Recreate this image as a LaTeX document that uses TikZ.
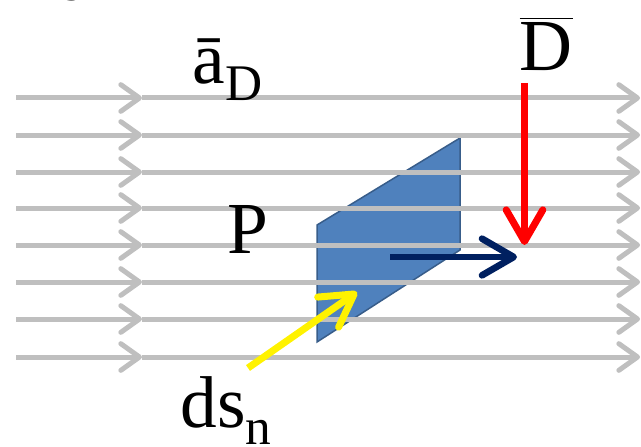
\documentclass[tikz,border=0pt]{standalone}
\usepackage{fontspec}
\setmainfont{Liberation Serif}
\usetikzlibrary{arrows.meta}

\definecolor{fluxgray}{HTML}{BFBFBF}
\definecolor{plateblue}{HTML}{4F81BD}
\definecolor{plateedge}{HTML}{385D8A}
\definecolor{fluxnavy}{HTML}{002060}

\newcommand{\lowsub}[1]{\raisebox{-0.24em}{\fontsize{15.4}{18}\selectfont #1}}

\tikzset{
    flux line/.style={
      draw=fluxgray,
      line width=1.5pt,
      -{Straight Barb[length=5.6pt,width=8pt,round]}
    },
    plate/.style={
      fill=plateblue,
      draw=plateedge,
      line width=0.45pt
    },
    vec arrow/.style={
      line width=2pt,
      -{Straight Barb[length=9.5pt,width=11pt,round]}
    },
    field label/.style={
      font=\fontsize{22}{26}\selectfont,
      inner sep=0pt
    }
  }

\begin{document}
\begin{tikzpicture}[x=0.3pt,y=-0.3pt]
      \useasboundingbox (0,0) rectangle (641,446);

      % 面要素 ds
      \filldraw[plate] (460,138) -- (460,250) -- (317,342) -- (317,225) -- cycle;

      % 流線
      \foreach \y in {98,135,172,208,245,282,319,357} {
        \draw[flux line] (16,\y) -- (142,\y);
        \draw[flux line] (142,\y) -- (640,\y);
      }

      % 点とベクトル
      \coordinate (P) at (517,257);
      \coordinate (Dtail) at (524.5,83);
      \coordinate (Dtip) at (524.5,245);
      \coordinate (ntail) at (390,257);
      \coordinate (stail) at (248,368);
      \coordinate (stip) at (357,292);

      \draw[vec arrow, fluxnavy] (ntail) -- (P);
      \draw[vec arrow, red, line width=2.1pt] (Dtail) -- (Dtip);
      \draw[vec arrow, yellow, line width=2.1pt] (stail) -- (stip);

      % ラベル
      \node[field label, anchor=base west] (aD) at (192,83) {ā\lowsub{D}};
      \node[field label, anchor=base west] (Dbar) at (519,71) {$\overline{\hbox{D}}$};
      \node[field label, anchor=base west] (Plabel) at (227,253) {P};
      \node[field label, anchor=base west] (dsn) at (180,427) {ds\lowsub{n}};
      \node[field label, anchor=base west, font=\fontsize{15.4}{18}\selectfont] (sn) at (62,1) {sn};
    \end{tikzpicture}
\end{document}
